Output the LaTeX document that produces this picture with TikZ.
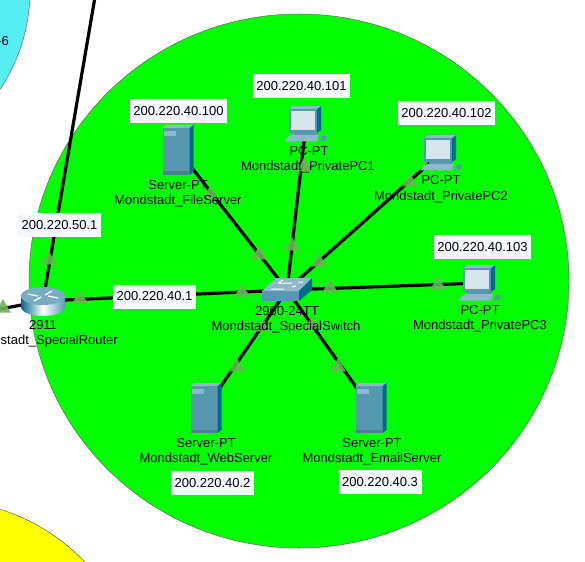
\documentclass[tikz,border=0pt]{standalone}
\usepackage{fontspec}
\setmainfont{Liberation Sans}
\usetikzlibrary{shapes.geometric}
\definecolor{zonegreen}{HTML}{00FF00}
\definecolor{zonecyan}{HTML}{55EEF2}
\definecolor{zoneyellow}{HTML}{FFFF00}
\definecolor{lightgreen}{HTML}{6DB356}
\definecolor{boxwhite}{HTML}{F6F8FF}
\definecolor{icontop}{HTML}{8FB9CA}
\definecolor{iconfront}{HTML}{5598B0}
\definecolor{iconside}{HTML}{046A8C}
\definecolor{iconscreen}{HTML}{D6E4EC}
\begin{document}
\begin{tikzpicture}[
    x=1pt, y=-1pt,
    zone/.style={draw=black!60, line width=0.5pt},
    link/.style={line width=3.2pt, black},
    devpoint/.style={inner sep=0pt, minimum size=1pt},
    devtext/.style={inner sep=0pt, font=\fontsize{13}{15}\selectfont},
    ipbox/.style={rectangle, fill=boxwhite, inner sep=0pt, minimum height=24pt, font=\fontsize{13}{15}\selectfont},
    ipshort/.style={ipbox, minimum width=83pt},
    iplong/.style={ipbox, minimum width=97pt},
    light/.style={regular polygon, regular polygon sides=3, fill=lightgreen, fill opacity=0.9, inner sep=0pt, minimum size=18pt},
    servericon/.pic={
        \fill[iconfront] (-15.5,-22) rectangle (11.5,25);
        \fill[icontop] (-15.5,-22) -- (-12,-25) -- (15.5,-25) -- (11.5,-22) -- cycle;
        \fill[iconside] (11.5,-22) -- (15.5,-25) -- (15.5,22) -- (11.5,25) -- cycle;
        \fill[icontop] (-14,-19) rectangle (-2,-14);
        \fill[iconfront!85!black] (-15.5,21.5) rectangle (11.5,25);
    },
    pcicon/.pic={
        \fill[iconside] (-17,-15) -- (-13,-18) -- (15,-18) -- (15,6) -- (11,9) -- (-17,9) -- cycle;
        \fill[iconfront] (-17,-15) rectangle (11,9);
        \fill[icontop] (-17,-15) -- (-13,-18) -- (15,-18) -- (11,-15) -- cycle;
        \fill[iconscreen] (-15,-13) rectangle (9,6);
        \fill[iconfront] (-12,9) rectangle (11,12);
        \fill[icontop] (-17,12) -- (-14,11) -- (13,11) -- (11,17.5) -- (-21,17.5) -- cycle;
        \fill[iconfront] (14,17) -- (16,12) -- (21,12) -- (19,17) -- cycle;
    },
    routericon/.pic={
        \shade[left color=iconside, right color=iconfront, middle color=white] (-22,-5) -- (-22,6) arc[start angle=180, end angle=360, x radius=22, y radius=-9] -- (22,-5) -- cycle;
        \fill[iconfront!80!white] (0,-5) ellipse [x radius=22, y radius=9];
        \draw[white, line width=1.2pt] (-15,-7) -- (-5,-5) (15,-3) -- (5,-5) (-9,0) -- (-2,-4) (9,-10) -- (2,-6);
    },
    switchicon/.pic={
        \fill[iconfront] (-25,1) rectangle (12,11);
        \fill[icontop] (-25,1) -- (-11,-12) -- (25,-12) -- (12,1) -- cycle;
        \fill[iconside] (12,1) -- (25,-12) -- (25,0) -- (12,11) -- cycle;
        \draw[white, line width=1pt] (-9,-7) -- (5,-7) (-16,-1) -- (-3,-1) (-4,-10) -- (-9,-7) (11,-8) -- (16,-8) (5,-3) -- (9,-4);
    }
]

% page and the three zones
\clip (0,0) rectangle (585,561);
\fill[white] (0,0) rectangle (585,561);
\draw[zone, fill=zonecyan] (-150,-10) circle [radius=180];
\draw[zone, fill=zoneyellow] (-60,700) circle [radius=200];
\draw[zone, fill=zonegreen] (299,281) ellipse [x radius=270, y radius=267];
\node[devtext, anchor=east] (cyan_name) at (9,41) {-6};

% device positions
\node[devpoint] (special_switch) at (287,290) {};
\node[devpoint] (special_router) at (43,301) {};
\node[devpoint] (file_server) at (178,150) {};
\node[devpoint] (web_server) at (206,408) {};
\node[devpoint] (email_server) at (371,408) {};
\node[devpoint] (private_pc1) at (306,124) {};
\node[devpoint] (private_pc2) at (441,153) {};
\node[devpoint] (private_pc3) at (480,283) {};
\coordinate (uplink_end) at (95,-3);
\coordinate (leftlink_end) at (-5,310);

% Links
\draw[link] (special_router) -- (uplink_end);
\draw[link] (special_router) -- (leftlink_end);
\draw[link] (special_router) -- (special_switch);
\draw[link] (special_switch) -- (file_server);
\draw[link] (special_switch) -- (web_server);
\draw[link] (special_switch) -- (email_server);
\draw[link] (special_switch) -- (private_pc1);
\draw[link] (special_switch) -- (private_pc2);
\draw[link] (special_switch) -- (private_pc3);

% Device icons
\pic at (special_switch) {switchicon};
\pic at (special_router) {routericon};
\pic at (file_server) {servericon};
\pic at (web_server) {servericon};
\pic at (email_server) {servericon};
\pic at (private_pc1) {pcicon};
\pic at (private_pc2) {pcicon};
\pic at (private_pc3) {pcicon};

% Link lights
\node[light] (light_up) at (49,260) {};
\node[light] (light_left) at (3,308) {};
\node[light] (light_right) at (80,299) {};
\node[light] (light_sw_router) at (242,292) {};
\node[light] (light_sw_file) at (259,255) {};
\node[light] (light_sw_pc1) at (292,246) {};
\node[light] (light_sw_pc2) at (319,262) {};
\node[light] (light_sw_pc3) at (330,288) {};
\node[light] (light_sw_web) at (263,327) {};
\node[light] (light_sw_email) at (312,325) {};
\node[light] (light_file) at (210,195) {};
\node[light] (light_pc1) at (304,167) {};
\node[light] (light_pc2) at (410,182) {};
\node[light] (light_pc3) at (438,285) {};
\node[light] (light_web) at (237,367) {};
\node[light] (light_email) at (338,367) {};

% Device names
\node[devtext] (switch_type) at (287,311) {2960-24TT};
\node[devtext] (switch_name) at (286,327) {Mondstadt\_SpecialSwitch};
\node[devtext] (router_type) at (43,325) {2911};
\node[devtext] (router_name) at (43,341) {Mondstadt\_SpecialRouter};
\node[devtext] (file_type) at (178,185) {Server-PT};
\node[devtext] (file_name) at (178,201) {Mondstadt\_FileServer};
\node[devtext] (web_type) at (206,443) {Server-PT};
\node[devtext] (web_name) at (206,459) {Mondstadt\_WebServer};
\node[devtext] (email_type) at (372,443) {Server-PT};
\node[devtext] (email_name) at (372,459) {Mondstadt\_EmailServer};
\node[devtext] (pc1_type) at (309,151) {PC-PT};
\node[devtext] (pc1_name) at (308,167) {Mondstadt\_PrivatePC1};
\node[devtext] (pc2_type) at (441,180) {PC-PT};
\node[devtext] (pc2_name) at (441,197) {Mondstadt\_PrivatePC2};
\node[devtext] (pc3_type) at (480,310) {PC-PT};
\node[devtext] (pc3_name) at (480,326) {Mondstadt\_PrivatePC3};

% Address boxes
\node[iplong] (ip_file) at (178.5,111) {200.220.40.100};
\node[iplong] (ip_pc1) at (301.5,86) {200.220.40.101};
\node[iplong] (ip_pc2) at (446.5,113) {200.220.40.102};
\node[iplong] (ip_pc3) at (482.5,247) {200.220.40.103};
\node[ipshort] (ip_up) at (59.5,225) {200.220.50.1};
\node[ipshort] (ip_router) at (154.5,296.5) {200.220.40.1};
\node[ipshort] (ip_web) at (212.5,483) {200.220.40.2};
\node[ipshort] (ip_email) at (380,482) {200.220.40.3};

\end{tikzpicture}
\end{document}
